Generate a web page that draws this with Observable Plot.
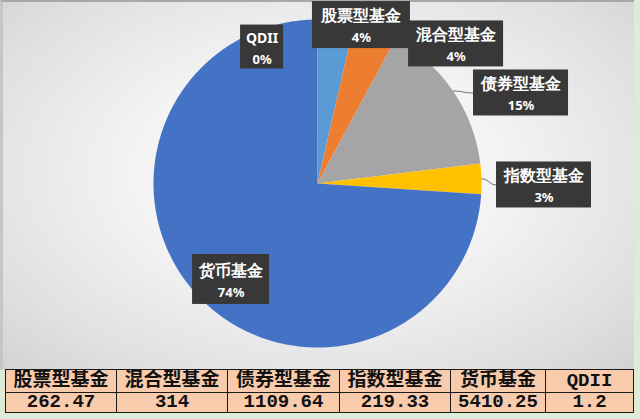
<!DOCTYPE html>
<html><head><meta charset="utf-8">
<script src="https://cdn.jsdelivr.net/npm/d3@7"></script>
<script src="https://cdn.jsdelivr.net/npm/@observablehq/plot@0.6"></script>
<style>
html,body{margin:0;padding:0;}
body{width:640px;height:419px;background:#dcecd6;overflow:hidden;position:relative;font-family:"Noto Sans CJK SC",sans-serif;}
#bg{position:absolute;left:0;top:0;width:634px;height:370px;box-sizing:border-box;border-top:2px solid #a7a7a9;border-left:3px solid #c6c6c8;
  background:radial-gradient(ellipse 75% 80% at 50% 46%, #fdfdfd 0%, #f3f3f4 40%, #e0e0e2 75%, #cfcfd2 100%);}
#plot{position:absolute;left:0;top:0;}
#plot svg{display:block;}
g[aria-label="label-box"]{filter:drop-shadow(2px 3px 2px rgba(0,0,0,0.45));}
#tbl{position:absolute;left:5px;top:369px;border-collapse:collapse;background:#f8cbad;table-layout:fixed;}
#tbl td{border:1.5px solid #1a1a1a;padding:0;text-align:center;color:#111;font-family:"Liberation Mono","Noto Sans CJK SC",monospace;white-space:nowrap;overflow:hidden;font-weight:bold;}
#tbl tr.h td{height:22px;font-size:19px;line-height:22px;}
#tbl tr.v td{height:19px;font-size:19px;line-height:19px;}
</style>
</head><body>
<div id="bg"></div>
<div id="plot"></div>
<table id="tbl"></table>
<script>
// ---- data ----
const categories = ["股票型基金","混合型基金","债券型基金","指数型基金","货币基金","QDII"];
const values = [262.47, 314, 1109.64, 219.33, 5410.25, 1.2];
const valueLabels = ["262.47","314","1109.64","219.33","5410.25","1.2"];
const colors = ["#5b9bd5","#ed7d31","#a5a5a5","#ffc000","#4472c4","#70ad47"];

// ---- layout (label placement, in pie-radius units relative to centre) ----
const labelOffsets = [[0.268,0.966],[0.845,0.851],[1.241,0.552],[1.381,-0.009],[-0.527,-0.585],[-0.338,0.832]];
const boxWidthsPx = [98,95,95,95,77,43];
const boxHeightsPx = [47,46,46,46,50,44];
const leaderFor = ["债券型基金","指数型基金"];

const W = 634, H = 369, CX = 317, CY = 183, R = 164;

const total = d3.sum(values);
const arcs = d3.pie().sort(null).value(d => d)(values);

// slice outlines (polar -> cartesian, 12 o'clock start, clockwise)
const slicePts = [];
arcs.forEach((a, i) => {
  const cat = categories[i];
  slicePts.push({cat, x: 0, y: 0});
  const n = Math.max(2, Math.ceil((a.endAngle - a.startAngle) / 0.01));
  for (let k = 0; k <= n; k++) {
    const t = a.startAngle + (a.endAngle - a.startAngle) * k / n;
    slicePts.push({cat, x: Math.sin(t), y: Math.cos(t)});
  }
});

const labels = categories.map((c, i) => {
  const mid = (arcs[i].startAngle + arcs[i].endAngle) / 2;
  const w = boxWidthsPx[i] / R, h = boxHeightsPx[i] / R;
  return {
    cat: c,
    pct: Math.round(values[i] / total * 100) + "%",
    lx: labelOffsets[i][0], ly: labelOffsets[i][1], w, h,
    ex: Math.sin(mid), ey: Math.cos(mid)
  };
});
const leaders = labels.filter(d => leaderFor.includes(d.cat));

const chart = Plot.plot({
  width: W, height: H, margin: 0,
  x: {domain: [-CX / R, (W - CX) / R], axis: null},
  y: {domain: [-(H - CY) / R, CY / R], axis: null},
  color: {domain: categories, range: colors},
  style: {background: "transparent", overflow: "visible"},
  marks: [
    Plot.line(slicePts, {x: "x", y: "y", z: "cat", fill: "cat", stroke: "none", curve: "linear-closed"}),
    Plot.link(leaders, {x1: "ex", y1: "ey", x2: d => d.lx - d.w / 2, y2: "ly", stroke: "#6f6f6f", strokeWidth: 1, curve: "bump-x"}),
    Plot.rect(labels, {x1: d => d.lx - d.w / 2, x2: d => d.lx + d.w / 2, y1: d => d.ly - d.h / 2, y2: d => d.ly + d.h / 2, fill: "#383838", ariaLabel: "label-box"}),
    Plot.text(labels, {x: "lx", y: "ly", text: "cat", dy: -9, fill: "white", fontWeight: "bold",
      fontSize: d => d.cat === "QDII" ? 14 : 16,
      fontFamily: d => d.cat === "QDII" ? "Noto Sans" : "Noto Sans CJK SC"}),
    Plot.text(labels, {x: "lx", y: "ly", text: "pct", dy: 13, fill: "white", fontWeight: "bold", fontSize: 13, fontFamily: "Noto Sans"})
  ]
});
document.getElementById("plot").appendChild(chart);

// data table below the chart
const colW = [111,111,112,111,95,88];
const tbl = d3.select("#tbl");
tbl.append("colgroup").selectAll("col").data(colW).join("col").style("width", d => d + "px");
tbl.append("tr").attr("class", "h").selectAll("td").data(categories).join("td").text(d => d);
tbl.append("tr").attr("class", "v").selectAll("td").data(valueLabels).join("td").text(d => d);
</script>
</body></html>
